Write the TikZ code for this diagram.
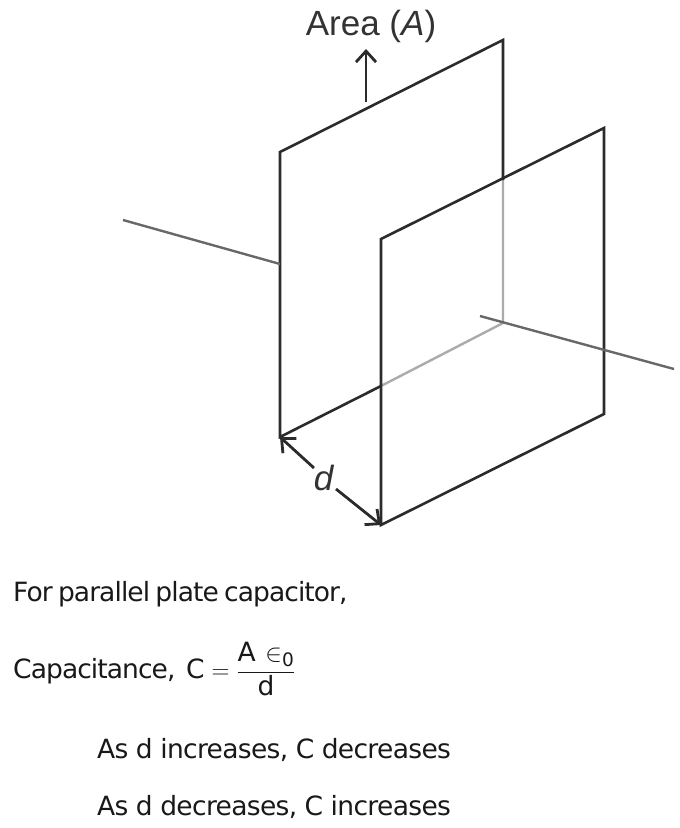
\documentclass[tikz,border=0pt]{standalone}
\usepackage{fontspec}
\setmainfont[LetterSpace=-2.5]{DejaVu Sans}
\newfontfamily\figfont{Liberation Sans}
\usetikzlibrary{arrows.meta}
\definecolor{platecol}{HTML}{2B2B2B}
\definecolor{leadcol}{HTML}{686868}
\definecolor{hiddencol}{HTML}{ABABAB}
\tikzset{
  pt/.style={inner sep=0pt,minimum size=0pt},
  plate/.style={draw=platecol,line width=2.6pt,line join=miter},
  lead/.style={draw=leadcol,line width=2.4pt},
  hidden/.style={draw=hiddencol,line width=2.4pt},
  dimen/.style={draw=platecol,line width=2.8pt,-{Straight Barb[length=11pt,width=20pt,line width=2.8pt]}},
  figtext/.style={inner sep=0pt,text=black!80,font=\figfont\fontsize{35}{40}\selectfont},
  body/.style={inner sep=0pt,anchor=base west,text=black!90,font=\fontsize{26.5}{30}\selectfont}
}
\begin{document}
\begin{tikzpicture}[x=1pt,y=-1pt]
\useasboundingbox (0,0) rectangle (680,828);
% back plate
\draw (280,152) node[pt](b1){}  (503,40) node[pt](b2){}  (503,180) node[pt](b3){}
      (503,323) node[pt](b4){}  (381,386) node[pt](b5){}  (280,437) node[pt](b6){};
% front plate
\draw (381,239) node[pt](f1){}  (604,128) node[pt](f2){}
      (604,414) node[pt](f3){}  (381,525) node[pt](f4){};
% leads and arrows
\draw (123,220) node[pt](l1){}  (280,264) node[pt](l2){}
      (480,316) node[pt](l3){}  (674,369) node[pt](l4){}
      (366,102) node[pt](a1){}  (366,49) node[pt](a2){};

\path[hidden] (b3.center) -- (b4.center) -- (b5.center);
\path[plate] (b3.center) -- (b2.center) -- (b1.center) -- (b6.center) -- (b5.center);
\path[plate] (f1.center) -- (f2.center) -- (f3.center) -- (f4.center) -- cycle;
\path[lead] (l1.center) -- (l2.center);
\path[lead] (l3.center) -- (l4.center);
\path[dimen] (a1.center) -- (a2.center);

\node[figtext] (area) at (371,26) {Area (\textit{A})};
\node[figtext] (dist) at (324,478) {\textit{d}};
\path[dimen] (314,468) coordinate (d1) (d1) -- (b6.center);
\path[dimen] (336,489) coordinate (d2) (d2) -- (f4.center);

\node[body] (t1) at (13,601) {\addfontfeature{LetterSpace=-3.5}\spaceskip=5.3pt For parallel plate capacitor,};
\node[body] (t2) at (13,678) {\addfontfeature{LetterSpace=-3.5}Capacitance,};
\node[body] (t2c) at (186,678) {$\mathrm{C}=\displaystyle\frac{\mathrm{A}\mkern7mu{\in_{\mathrm{0}}}}{\mathrm{d}}$};
\node[body] (t3) at (97,758) {\spaceskip=7.5pt As d increases, C decreases};
\node[body] (t4) at (97,815) {\spaceskip=7.5pt As d decreases, C increases};
\end{tikzpicture}
\end{document}
